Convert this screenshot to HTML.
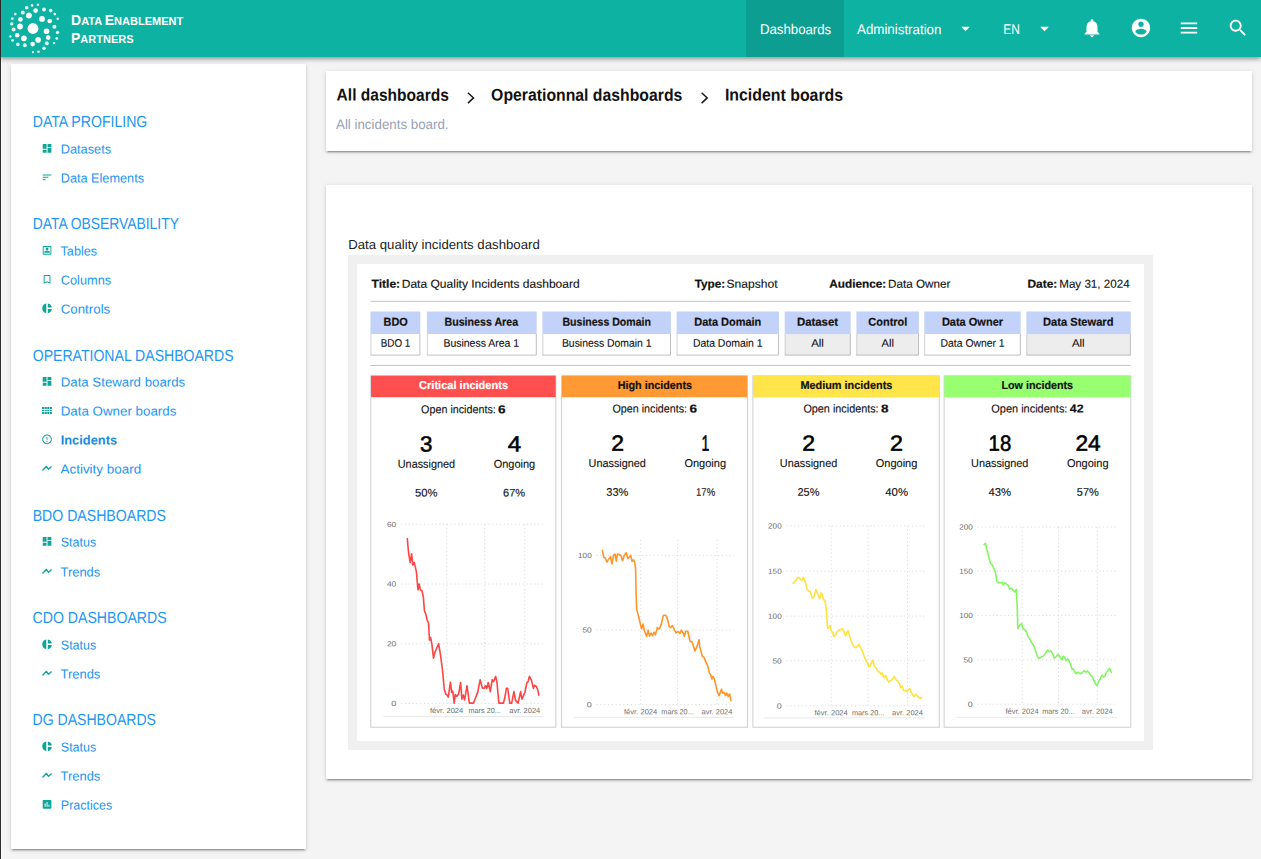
<!DOCTYPE html>
<html><head><meta charset="utf-8"><title>Incident boards</title>
<style>
*{box-sizing:border-box;margin:0;padding:0}
html,body{width:1261px;height:859px;overflow:hidden}
body{background:#f4f4f4;font-family:"Liberation Sans",sans-serif;position:relative;color:#111}
.abs,.paper,.sic,.t{position:absolute}
.t{left:0;top:0;white-space:nowrap;transform-origin:0 0;line-height:2em}
.edge{position:absolute;left:0;top:0;width:1px;height:859px;background:#2b2b2b;z-index:9}
.hdr{position:absolute;left:0;top:0;width:1261px;height:57px;background:#0db2a2;box-shadow:0 2px 4px rgba(0,0,0,.32),0 1px 8px rgba(0,0,0,.12);z-index:5}
.hdr svg{position:absolute;fill:#fff}
.brand{position:absolute;left:71px;color:#fff;font-weight:bold;font-size:11px;white-space:nowrap}
.brand .c{font-size:14px}
.tab{position:absolute;top:0;left:746px;width:98px;height:57px;background:#0c9f91}
.paper{background:#fff;border-radius:0 0 1px 1px;box-shadow:0 3px 1px -2px rgba(0,0,0,.2),0 2px 2px 0 rgba(0,0,0,.14),0 1px 5px 0 rgba(0,0,0,.12)}
.sic{left:41px;overflow:visible;width:11.6px;height:11.6px;fill:#10a697}
svg text{font-family:"Liberation Sans",sans-serif}
.g{stroke:#dcdcdc;stroke-width:1;stroke-dasharray:1.2 2.6}
.b{stroke:#e9e9e9;stroke-width:1}
</style></head><body>
<div class="edge"></div><div class="abs" style="left:1px;top:57px;width:1.3px;height:802px;background:#fdfdfd"></div>
<div class="hdr">
 <svg style="left:0;top:0" width="70" height="57" viewBox="0 0 70 57"><circle cx="33.0" cy="28.5" r="5.4"/><circle cx="28.9" cy="15.5" r="2.9"/><circle cx="42.0" cy="18.9" r="2.9"/><circle cx="20.0" cy="26.5" r="2.9"/><circle cx="46.5" cy="31.2" r="2.8"/><circle cx="23.9" cy="38.3" r="2.9"/><circle cx="38.1" cy="39.9" r="2.8"/><circle cx="35.6" cy="10.6" r="2.3"/><circle cx="44.0" cy="9.6" r="2.0" opacity=".88"/><circle cx="22.8" cy="12.4" r="2.0" opacity=".88"/><circle cx="20.4" cy="19.4" r="2.3"/><circle cx="49.7" cy="21.0" r="2.3"/><circle cx="54.4" cy="26.7" r="2.0" opacity=".88"/><circle cx="13.6" cy="29.5" r="2.0" opacity=".88"/><circle cx="17.2" cy="35.2" r="2.3"/><circle cx="48.2" cy="37.6" r="2.3"/><circle cx="46.8" cy="43.2" r="2.0" opacity=".88"/><circle cx="32.6" cy="44.1" r="2.3"/><circle cx="24.8" cy="45.3" r="2.0" opacity=".88"/><circle cx="17.9" cy="44.4" r="1.8" opacity=".88"/><circle cx="44.0" cy="48.2" r="1.8" opacity=".88"/><circle cx="26.7" cy="7.7" r="1.8" opacity=".88"/><circle cx="32.0" cy="5.4" r="1.4" opacity=".88"/><circle cx="37.9" cy="4.8" r="1.2" opacity=".88"/><circle cx="50.7" cy="10.6" r="1.8" opacity=".88"/><circle cx="54.8" cy="14.1" r="1.4" opacity=".88"/><circle cx="57.7" cy="18.7" r="1.3" opacity=".88"/><circle cx="15.3" cy="14.1" r="1.3" opacity=".88"/><circle cx="12.3" cy="18.7" r="1.4" opacity=".88"/><circle cx="11.7" cy="23.9" r="1.7" opacity=".88"/><circle cx="57.5" cy="32.5" r="1.7" opacity=".88"/><circle cx="56.8" cy="38.4" r="1.4" opacity=".88"/><circle cx="54.0" cy="43.1" r="1.2" opacity=".88"/><circle cx="10.4" cy="36.4" r="1.2" opacity=".88"/><circle cx="12.6" cy="40.4" r="1.4" opacity=".88"/><circle cx="33.0" cy="52.2" r="1.1" opacity=".88"/><circle cx="38.5" cy="51.7" r="1.3" opacity=".88"/></svg>
 <div class="brand" style="top:12px"><span class="c">D</span>ATA <span class="c">E</span>NABLEMENT</div>
 <div class="brand" style="top:29.5px"><span class="c">P</span>ARTNERS</div>
 <div class="tab"></div>
 <div class="t" style="font-size:14.1px;color:#fff;transform:matrix(0.9385,0.0006,0,1,759.90,15.10)">Dashboards</div>
 <div class="t" style="font-size:14.1px;color:#fff;transform:matrix(0.9453,0.0006,0,1,857.00,15.10)">Administration</div>
 <svg style="left:955px;top:17.7px" width="21" height="21" viewBox="0 0 24 24"><path d="M7 10l5 5 5-5z"/></svg>
 <div class="t" style="font-size:14.1px;color:#fff;transform:matrix(0.8501,0.0006,0,1,1003.30,15.10)">EN</div>
 <svg style="left:1034px;top:17.7px" width="21" height="21" viewBox="0 0 24 24"><path d="M7 10l5 5 5-5z"/></svg>
 <svg style="left:1081px;top:17.2px" width="22" height="22" viewBox="0 0 24 24"><path d="M12 22c1.100 0 2-.900 2-2h-4c0 1.100.890 2 2 2zm6-6v-5c0-3.070-1.640-5.640-4.500-6.320V4c0-.830-.670-1.500-1.500-1.500s-1.500.670-1.500 1.500v.680C7.630 5.360 6 7.920 6 11v5l-2 2v1h16v-1l-2-2z"/></svg>
 <svg style="left:1130px;top:17.2px" width="22" height="22" viewBox="0 0 24 24"><path d="M12 2C6.480 2 2 6.480 2 12s4.480 10 10 10 10-4.480 10-10S17.520 2 12 2zm0 3c1.660 0 3 1.340 3 3s-1.340 3-3 3-3-1.340-3-3 1.340-3 3-3zm0 14.200c-2.500 0-4.710-1.280-6-3.220.030-1.990 4-3.080 6-3.080 1.990 0 5.970 1.090 6 3.080-1.290 1.940-3.500 3.220-6 3.220z"/></svg>
 <svg style="left:1178px;top:17.2px" width="22" height="22" viewBox="0 0 24 24"><path d="M3 18h18v-2H3v2zm0-5h18v-2H3v2zm0-7v2h18V6H3z"/></svg>
 <svg style="left:1226.7px;top:17.2px" width="22" height="22" viewBox="0 0 24 24"><path d="M15.500 14h-.790l-.280-.270C15.410 12.590 16 11.110 16 9.500 16 5.910 13.090 3 9.500 3S3 5.910 3 9.500 5.910 16 9.500 16c1.610 0 3.090-.590 4.230-1.570l.270.280v.790l5 4.990L20.490 19l-4.990-5zm-6 0C7.010 14 5 11.990 5 9.500S7.010 5 9.500 5 14 7.010 14 9.500 11.990 14 9.500 14z"/></svg>
</div>

<div class="paper" style="left:11px;top:64px;width:295px;height:785px"></div>
<div class="t" style="font-size:16.1px;color:#2196f3;transform:matrix(0.8758,0.0006,0,1,32.70,104.90)">DATA PROFILING</div>
<svg class="sic" style="top:143px" viewBox="0 0 24 24"><g transform="translate(.52 -.93)"><path d="M3 13h8V3H3v10zm0 8h8v-6H3v6zm10 0h8V11h-8v10zm0-18v6h8V3h-8z"/></g></svg>
<div class="t" style="font-size:13.0px;color:#2196f3;transform:matrix(0.9835,0.0006,0,1,60.70,136.50)">Datasets</div>
<svg class="sic" style="top:172px" viewBox="0 0 24 24"><g transform="translate(.52 -.93)"><path d="M3 18h6v-2H3v2zM3 6v2h18V6H3zm0 7h12v-2H3v2z"/></g></svg>
<div class="t" style="font-size:13.0px;color:#2196f3;transform:matrix(0.9775,0.0006,0,1,60.70,165.50)">Data Elements</div>
<div class="t" style="font-size:16.1px;color:#2196f3;transform:matrix(0.8618,0.0006,0,1,32.70,206.90)">DATA OBSERVABILITY</div>
<svg class="sic" style="top:245px" viewBox="0 0 24 24"><g transform="translate(.52 -.93)"><path d="M19 5v14H5V5h14m0-2H5c-1.100 0-2 .900-2 2v14c0 1.100.900 2 2 2h14c1.100 0 2-.900 2-2V5c0-1.100-.900-2-2-2zm-7 9c-1.650 0-3-1.350-3-3s1.350-3 3-3 3 1.350 3 3-1.350 3-3 3zm-6 5v-1.500c0-1.830 3.660-2.750 6-2.750s6 .920 6 2.750V17H6z" fill-rule="evenodd"/></g></svg>
<div class="t" style="font-size:13.0px;color:#2196f3;transform:matrix(0.9752,0.0006,0,1,60.50,238.50)">Tables</div>
<svg class="sic" style="top:274px" viewBox="0 0 24 24"><g transform="translate(.52 -.93)"><path d="M17 3H7c-1.100 0-1.990.900-1.990 2L5 21l7-3 7 3V5c0-1.100-.900-2-2-2zm0 15l-5-2.180L7 18V5h10v13z"/></g></svg>
<div class="t" style="font-size:13.0px;color:#2196f3;transform:matrix(0.9835,0.0006,0,1,60.70,267.50)">Columns</div>
<svg class="sic" style="top:303px" viewBox="0 0 24 24"><g transform="translate(.52 -.93)"><path d="M10.400 2v20C5.500 21.500 2 17.200 2 12S5.500 2.500 10.400 2zM13.600 2v8.400H22C21.500 5.900 18.100 2.500 13.600 2zM13.600 13.600V22c4.500-.500 7.900-3.900 8.400-8.400h-8.400z"/></g></svg>
<div class="t" style="font-size:13.0px;color:#2196f3;transform:matrix(1.0235,0.0006,0,1,60.70,296.50)">Controls</div>
<div class="t" style="font-size:16.1px;color:#2196f3;transform:matrix(0.8740,0.0006,0,1,32.70,338.90)">OPERATIONAL DASHBOARDS</div>
<svg class="sic" style="top:376px" viewBox="0 0 24 24"><g transform="translate(.52 -.93)"><path d="M3 13h8V3H3v10zm0 8h8v-6H3v6zm10 0h8V11h-8v10zm0-18v6h8V3h-8z"/></g></svg>
<div class="t" style="font-size:13.0px;color:#2196f3;transform:matrix(1.0191,0.0006,0,1,60.70,369.50)">Data Steward boards</div>
<svg class="sic" style="top:405px" viewBox="0 0 24 24"><path d="M2.07 4.14H6.62V8.28H2.07zM7.66 4.14H12.00V8.28H7.66zM13.04 4.14H17.38V8.28H13.04zM18.41 4.14H22.76V8.28H18.41zM2.07 10.35H6.62V12.41H2.07zM7.66 10.35H12.00V12.41H7.66zM13.04 10.35H17.38V12.41H13.04zM18.41 10.35H22.76V12.41H18.41zM2.07 14.48H6.62V18.62H2.07zM7.66 14.48H12.00V18.62H7.66zM13.04 14.48H17.38V18.62H13.04zM18.41 14.48H22.76V18.62H18.41z"/></svg>
<div class="t" style="font-size:13.0px;color:#2196f3;transform:matrix(1.0260,0.0006,0,1,60.70,398.50)">Data Owner boards</div>
<svg class="sic" style="top:434px" viewBox="0 0 24 24"><g transform="translate(.52 -.93)"><path d="M11 15h2v2h-2zm0-8h2v6h-2zm.990-5C6.470 2 2 6.480 2 12s4.470 10 9.990 10C17.520 22 22 17.520 22 12S17.520 2 11.990 2zM12 20c-4.420 0-8-3.580-8-8s3.580-8 8-8 8 3.580 8 8-3.580 8-8 8z"/></g></svg>
<div class="t" style="font-size:13.0px;font-weight:bold;color:#1a8ae0;transform:matrix(0.9874,0.0006,0,1,60.70,427.50)">Incidents</div>
<svg class="sic" style="top:463px" viewBox="0 0 24 24"><g transform="translate(.52 -.93)"><path d="M2.600 16.500L10.700 7.800L15 14L21.400 8.300" fill="none" stroke="#10a697" stroke-width="2.700" stroke-linejoin="round"/></g></svg>
<div class="t" style="font-size:13.0px;color:#2196f3;transform:matrix(1.0336,0.0006,0,1,60.50,456.50)">Activity board</div>
<div class="t" style="font-size:16.1px;color:#2196f3;transform:matrix(0.8762,0.0006,0,1,32.70,498.90)">BDO DASHBOARDS</div>
<svg class="sic" style="top:536px" viewBox="0 0 24 24"><g transform="translate(.52 -.93)"><path d="M3 13h8V3H3v10zm0 8h8v-6H3v6zm10 0h8V11h-8v10zm0-18v6h8V3h-8z"/></g></svg>
<div class="t" style="font-size:13.0px;color:#2196f3;transform:matrix(0.9646,0.0006,0,1,60.70,529.50)">Status</div>
<svg class="sic" style="top:566px" viewBox="0 0 24 24"><g transform="translate(.52 -.93)"><path d="M2.600 16.500L10.700 7.800L15 14L21.400 8.300" fill="none" stroke="#10a697" stroke-width="2.700" stroke-linejoin="round"/></g></svg>
<div class="t" style="font-size:13.0px;color:#2196f3;transform:matrix(0.9944,0.0006,0,1,60.50,559.50)">Trends</div>
<div class="t" style="font-size:16.1px;color:#2196f3;transform:matrix(0.8769,0.0006,0,1,32.50,600.90)">CDO DASHBOARDS</div>
<svg class="sic" style="top:639px" viewBox="0 0 24 24"><g transform="translate(.52 -.93)"><path d="M10.400 2v20C5.500 21.500 2 17.200 2 12S5.500 2.500 10.400 2zM13.600 2v8.400H22C21.500 5.900 18.100 2.500 13.600 2zM13.600 13.600V22c4.500-.500 7.900-3.900 8.400-8.400h-8.400z"/></g></svg>
<div class="t" style="font-size:13.0px;color:#2196f3;transform:matrix(0.9619,0.0006,0,1,60.80,632.50)">Status</div>
<svg class="sic" style="top:668px" viewBox="0 0 24 24"><g transform="translate(.52 -.93)"><path d="M2.600 16.500L10.700 7.800L15 14L21.400 8.300" fill="none" stroke="#10a697" stroke-width="2.700" stroke-linejoin="round"/></g></svg>
<div class="t" style="font-size:13.0px;color:#2196f3;transform:matrix(0.9969,0.0006,0,1,60.50,661.50)">Trends</div>
<div class="t" style="font-size:16.1px;color:#2196f3;transform:matrix(0.8741,0.0006,0,1,32.50,702.90)">DG DASHBOARDS</div>
<svg class="sic" style="top:741px" viewBox="0 0 24 24"><g transform="translate(.52 -.93)"><path d="M10.400 2v20C5.500 21.500 2 17.200 2 12S5.500 2.500 10.400 2zM13.600 2v8.400H22C21.500 5.900 18.100 2.500 13.600 2zM13.600 13.600V22c4.500-.500 7.900-3.900 8.400-8.400h-8.400z"/></g></svg>
<div class="t" style="font-size:13.0px;color:#2196f3;transform:matrix(0.9619,0.0006,0,1,60.80,734.50)">Status</div>
<svg class="sic" style="top:770px" viewBox="0 0 24 24"><g transform="translate(.52 -.93)"><path d="M2.600 16.500L10.700 7.800L15 14L21.400 8.300" fill="none" stroke="#10a697" stroke-width="2.700" stroke-linejoin="round"/></g></svg>
<div class="t" style="font-size:13.0px;color:#2196f3;transform:matrix(0.9969,0.0006,0,1,60.50,763.50)">Trends</div>
<svg class="sic" style="top:799px" viewBox="0 0 24 24"><g transform="translate(.52 -.93)"><path d="M19 3H5c-1.100 0-2 .900-2 2v14c0 1.100.900 2 2 2h14c1.100 0 2-.900 2-2V5c0-1.100-.900-2-2-2zM9 17H7v-7h2v7zm4 0h-2V7h2v10zm4 0h-2v-4h2v4z"/></g></svg>
<div class="t" style="font-size:13.0px;color:#2196f3;transform:matrix(0.9625,0.0006,0,1,60.80,792.50)">Practices</div>

<div class="paper" style="left:326px;top:71px;width:926px;height:80px"></div>
<div class="t" style="font-size:17.0px;font-weight:bold;color:#111;transform:matrix(0.9140,0.0006,0,1,336.60,78.60)">All dashboards</div>
<div class="t" style="font-size:17.0px;font-weight:bold;color:#111;transform:matrix(0.9288,0.0006,0,1,491.10,78.60)">Operationnal dashboards</div>
<div class="t" style="font-size:17.0px;font-weight:bold;color:#111;transform:matrix(0.9343,0.0006,0,1,724.90,78.60)">Incident boards</div>
<div class="t" style="font-size:13.8px;color:#98a2b4;transform:matrix(0.9653,0.0006,0,1,336.00,111.00)">All incidents board.</div>

<div class="paper" style="left:326px;top:185px;width:926px;height:594px"></div>
<div class="t" style="font-size:13.1px;color:#222;transform:matrix(1.0083,0.0006,0,1,348.20,231.90)">Data quality incidents dashboard</div>
<div class="abs" style="left:348px;top:255px;width:805px;height:495px;background:#f0f0f0"></div>
<div class="abs" style="left:357px;top:264px;width:787.3px;height:477.3px;background:#fff"></div>
<svg class="abs" style="left:0;top:0" width="1261" height="859" viewBox="0 0 1261 859">
<polyline points="468.5,93.2 473.5,97.9 468.5,102.6" fill="none" stroke="#1a1a1a" stroke-width="1.5" stroke-linecap="square"/><polyline points="702.2,93.2 707.2,97.9 702.2,102.6" fill="none" stroke="#1a1a1a" stroke-width="1.5" stroke-linecap="square"/>
<text transform="matrix(1.0417,0.0006,0,1,371.50,287.70)" font-size="11.6" fill="#111" font-weight="bold" stroke="#111" stroke-width=".2">Title:</text>
<text transform="matrix(1.0392,0.0006,0,1,401.70,287.70)" font-size="11.6" fill="#111" stroke="#111" stroke-width=".12">Data Quality Incidents dashboard</text>
<text transform="matrix(1.0123,0.0006,0,1,694.80,287.70)" font-size="11.6" fill="#111" font-weight="bold" stroke="#111" stroke-width=".2">Type:</text>
<text transform="matrix(1.0414,0.0006,0,1,726.50,287.70)" font-size="11.6" fill="#111" stroke="#111" stroke-width=".12">Snapshot</text>
<text transform="matrix(1.0174,0.0006,0,1,829.30,287.70)" font-size="11.6" fill="#111" font-weight="bold" stroke="#111" stroke-width=".2">Audience:</text>
<text transform="matrix(1.0091,0.0006,0,1,888.00,287.70)" font-size="11.6" fill="#111" stroke="#111" stroke-width=".12">Data Owner</text>
<text transform="matrix(1.0289,0.0006,0,1,1027.50,287.70)" font-size="11.6" fill="#111" font-weight="bold" stroke="#111" stroke-width=".2">Date:</text>
<text transform="matrix(1.0022,0.0006,0,1,1059.20,287.70)" font-size="11.6" fill="#111" stroke="#111" stroke-width=".12">May 31, 2024</text>
<rect x="370.4" y="300.8" width="760.4" height="1.1" fill="#c9c9c9"/>
<rect x="370.4" y="364.9" width="760.4" height="1.1" fill="#c9c9c9"/>
<rect x="370.5" y="334" width="49.8" height="21.5" fill="#fff"/>
<path d="M370.95 334V355.1" stroke="#cdcdcd" stroke-width=".9" fill="none"/><path d="M370.50 355.1H419.90V334" stroke="#b9b9b9" stroke-width=".9" fill="none"/>
<rect x="370.5" y="311.5" width="49.8" height="22.6" fill="#c3d2f8"/>
<text transform="matrix(0.9451,0.0006,0,1,383.60,325.70)" font-size="11.5" fill="#111" font-weight="bold" stroke="#111" stroke-width=".2">BDO</text>
<text transform="matrix(0.8921,0.0006,0,1,380.80,346.70)" font-size="11.0" fill="#111" stroke="#111" stroke-width=".12">BDO 1</text>
<rect x="426.9" y="334" width="109.8" height="21.5" fill="#fff"/>
<path d="M427.35 334V355.1" stroke="#cdcdcd" stroke-width=".9" fill="none"/><path d="M426.90 355.1H536.30V334" stroke="#b9b9b9" stroke-width=".9" fill="none"/>
<rect x="426.9" y="311.5" width="109.8" height="22.6" fill="#c3d2f8"/>
<text transform="matrix(0.9258,0.0006,0,1,444.50,325.70)" font-size="11.5" fill="#111" font-weight="bold" stroke="#111" stroke-width=".2">Business Area</text>
<text transform="matrix(0.9504,0.0006,0,1,443.50,346.70)" font-size="11.0" fill="#111" stroke="#111" stroke-width=".12">Business Area 1</text>
<rect x="542.4" y="334" width="128.5" height="21.5" fill="#fff"/>
<path d="M542.85 334V355.1" stroke="#cdcdcd" stroke-width=".9" fill="none"/><path d="M542.40 355.1H670.50V334" stroke="#b9b9b9" stroke-width=".9" fill="none"/>
<rect x="542.4" y="311.5" width="128.5" height="22.6" fill="#c3d2f8"/>
<text transform="matrix(0.9176,0.0006,0,1,562.50,325.70)" font-size="11.5" fill="#111" font-weight="bold" stroke="#111" stroke-width=".2">Business Domain</text>
<text transform="matrix(0.9471,0.0006,0,1,561.90,346.70)" font-size="11.0" fill="#111" stroke="#111" stroke-width=".12">Business Domain 1</text>
<rect x="676.6" y="334" width="102.4" height="21.5" fill="#fff"/>
<path d="M677.05 334V355.1" stroke="#cdcdcd" stroke-width=".9" fill="none"/><path d="M676.60 355.1H778.60V334" stroke="#b9b9b9" stroke-width=".9" fill="none"/>
<rect x="676.6" y="311.5" width="102.4" height="22.6" fill="#c3d2f8"/>
<text transform="matrix(0.9554,0.0006,0,1,694.20,325.70)" font-size="11.5" fill="#111" font-weight="bold" stroke="#111" stroke-width=".2">Data Domain</text>
<text transform="matrix(0.9507,0.0006,0,1,692.90,346.70)" font-size="11.0" fill="#111" stroke="#111" stroke-width=".12">Data Domain 1</text>
<rect x="784.7" y="334" width="66.0" height="21.5" fill="#ededed"/>
<path d="M785.15 334V355.1" stroke="#cdcdcd" stroke-width=".9" fill="none"/><path d="M784.70 355.1H850.30V334" stroke="#b9b9b9" stroke-width=".9" fill="none"/>
<rect x="784.7" y="311.5" width="66.0" height="22.6" fill="#c3d2f8"/>
<text transform="matrix(0.9928,0.0006,0,1,796.90,325.70)" font-size="11.5" fill="#111" font-weight="bold" stroke="#111" stroke-width=".2">Dataset</text>
<text transform="matrix(1.0351,0.0006,0,1,811.20,346.70)" font-size="11.0" fill="#111" stroke="#111" stroke-width=".12">All</text>
<rect x="856.4" y="334" width="62.5" height="21.5" fill="#ededed"/>
<path d="M856.85 334V355.1" stroke="#cdcdcd" stroke-width=".9" fill="none"/><path d="M856.40 355.1H918.50V334" stroke="#b9b9b9" stroke-width=".9" fill="none"/>
<rect x="856.4" y="311.5" width="62.5" height="22.6" fill="#c3d2f8"/>
<text transform="matrix(0.9552,0.0006,0,1,868.30,325.70)" font-size="11.5" fill="#111" font-weight="bold" stroke="#111" stroke-width=".2">Control</text>
<text transform="matrix(1.0106,0.0006,0,1,881.60,346.70)" font-size="11.0" fill="#111" stroke="#111" stroke-width=".12">All</text>
<rect x="924.3" y="334" width="96.4" height="21.5" fill="#fff"/>
<path d="M924.75 334V355.1" stroke="#cdcdcd" stroke-width=".9" fill="none"/><path d="M924.30 355.1H1020.30V334" stroke="#b9b9b9" stroke-width=".9" fill="none"/>
<rect x="924.3" y="311.5" width="96.4" height="22.6" fill="#c3d2f8"/>
<text transform="matrix(0.9569,0.0006,0,1,941.90,325.70)" font-size="11.5" fill="#111" font-weight="bold" stroke="#111" stroke-width=".2">Data Owner</text>
<text transform="matrix(0.9439,0.0006,0,1,940.60,346.70)" font-size="11.0" fill="#111" stroke="#111" stroke-width=".12">Data Owner 1</text>
<rect x="1026.4" y="334" width="104.4" height="21.5" fill="#ededed"/>
<path d="M1026.85 334V355.1" stroke="#cdcdcd" stroke-width=".9" fill="none"/><path d="M1026.40 355.1H1130.40V334" stroke="#b9b9b9" stroke-width=".9" fill="none"/>
<rect x="1026.4" y="311.5" width="104.4" height="22.6" fill="#c3d2f8"/>
<text transform="matrix(0.9656,0.0006,0,1,1043.10,325.70)" font-size="11.5" fill="#111" font-weight="bold" stroke="#111" stroke-width=".2">Data Steward</text>
<text transform="matrix(1.0433,0.0006,0,1,1071.90,346.70)" font-size="11.0" fill="#111" stroke="#111" stroke-width=".12">All</text>
<rect x="370.8" y="376" width="185.1" height="351.2" fill="#fff" stroke="#cdcdd0" stroke-width="1"/>
<rect x="370.7" y="375.4" width="185.3" height="22" fill="#d6d4f6"/><rect x="371" y="375.7" width="184.7" height="21.4" fill="#ff4f4f"/>
<text transform="matrix(0.9683,0.0006,0,1,419.10,389.00)" font-size="11.4" fill="#fff" font-weight="bold" stroke="#fff" stroke-width=".2">Critical incidents</text>
<text transform="matrix(0.9354,0.0006,0,1,421.10,413.30)" font-size="11.5" fill="#111" stroke="#111" stroke-width=".12">Open incidents:</text>
<text transform="matrix(1.1808,0.0006,0,1,498.10,413.30)" font-size="11.5" fill="#111" font-weight="bold" stroke="#111" stroke-width=".2">6</text>
<text transform="matrix(1.0178,0.0006,0,1,420.10,451.50)" font-size="22.0" fill="#000" stroke="#000" stroke-width=".55">3</text>
<text transform="matrix(1.0996,0.0006,0,1,507.80,451.50)" font-size="22.0" fill="#000" stroke="#000" stroke-width=".55">4</text>
<text transform="matrix(0.9543,0.0006,0,1,397.75,467.80)" font-size="11.4" fill="#111" stroke="#111" stroke-width=".12">Unassigned</text>
<text transform="matrix(0.9663,0.0006,0,1,493.65,467.80)" font-size="11.4" fill="#111" stroke="#111" stroke-width=".12">Ongoing</text>
<text transform="matrix(1.0199,0.0006,0,1,415.00,496.60)" font-size="11.0" fill="#111" stroke="#111" stroke-width=".12">50%</text>
<text transform="matrix(1.0063,0.0006,0,1,503.00,496.60)" font-size="11.0" fill="#111" stroke="#111" stroke-width=".12">67%</text>
<rect x="561.6" y="376" width="185.9" height="351.2" fill="#fff" stroke="#cdcdd0" stroke-width="1"/>
<rect x="561.5" y="375.4" width="186.1" height="22" fill="#d6d4f6"/><rect x="561.8" y="375.7" width="185.5" height="21.4" fill="#ff9933"/>
<text transform="matrix(0.9467,0.0006,0,1,617.70,389.00)" font-size="11.4" fill="#111" font-weight="bold" stroke="#111" stroke-width=".2">High incidents</text>
<text transform="matrix(0.9354,0.0006,0,1,612.40,412.50)" font-size="11.5" fill="#111" stroke="#111" stroke-width=".12">Open incidents:</text>
<text transform="matrix(1.1808,0.0006,0,1,689.40,412.50)" font-size="11.5" fill="#111" font-weight="bold" stroke="#111" stroke-width=".2">6</text>
<text transform="matrix(1.0423,0.0006,0,1,611.30,450.70)" font-size="22.0" fill="#000" stroke="#000" stroke-width=".55">2</text>
<text transform="matrix(0.6418,0.0006,0,1,701.40,450.70)" font-size="22.0" fill="#000" stroke="#000" stroke-width=".55">1</text>
<text transform="matrix(0.9543,0.0006,0,1,588.55,467.00)" font-size="11.4" fill="#111" stroke="#111" stroke-width=".12">Unassigned</text>
<text transform="matrix(0.9663,0.0006,0,1,684.45,467.00)" font-size="11.4" fill="#111" stroke="#111" stroke-width=".12">Ongoing</text>
<text transform="matrix(1.0018,0.0006,0,1,606.30,495.80)" font-size="11.0" fill="#111" stroke="#111" stroke-width=".12">33%</text>
<text transform="matrix(0.8700,0.0006,0,1,696.00,495.80)" font-size="11.0" fill="#111" stroke="#111" stroke-width=".12">17%</text>
<rect x="752.9" y="376" width="186.4" height="351.2" fill="#fff" stroke="#cdcdd0" stroke-width="1"/>
<rect x="752.8" y="375.4" width="186.6" height="22" fill="#d6d4f6"/><rect x="753.1" y="375.7" width="186.0" height="21.4" fill="#ffe44a"/>
<text transform="matrix(0.9561,0.0006,0,1,800.40,389.00)" font-size="11.4" fill="#111" font-weight="bold" stroke="#111" stroke-width=".2">Medium incidents</text>
<text transform="matrix(0.9429,0.0006,0,1,803.40,412.50)" font-size="11.5" fill="#111" stroke="#111" stroke-width=".12">Open incidents:</text>
<text transform="matrix(1.1808,0.0006,0,1,881.00,412.50)" font-size="11.5" fill="#111" font-weight="bold" stroke="#111" stroke-width=".2">8</text>
<text transform="matrix(1.0505,0.0006,0,1,802.30,450.70)" font-size="22.0" fill="#000" stroke="#000" stroke-width=".55">2</text>
<text transform="matrix(1.0587,0.0006,0,1,890.00,450.70)" font-size="22.0" fill="#000" stroke="#000" stroke-width=".55">2</text>
<text transform="matrix(0.9543,0.0006,0,1,779.85,467.00)" font-size="11.4" fill="#111" stroke="#111" stroke-width=".12">Unassigned</text>
<text transform="matrix(0.9663,0.0006,0,1,875.75,467.00)" font-size="11.4" fill="#111" stroke="#111" stroke-width=".12">Ongoing</text>
<text transform="matrix(1.0018,0.0006,0,1,797.50,495.80)" font-size="11.0" fill="#111" stroke="#111" stroke-width=".12">25%</text>
<text transform="matrix(1.0336,0.0006,0,1,885.30,495.80)" font-size="11.0" fill="#111" stroke="#111" stroke-width=".12">40%</text>
<rect x="944.1" y="376" width="186.7" height="351.2" fill="#fff" stroke="#cdcdd0" stroke-width="1"/>
<rect x="944.0" y="375.4" width="186.9" height="22" fill="#d6d4f6"/><rect x="944.3" y="375.7" width="186.3" height="21.4" fill="#97ff70"/>
<text transform="matrix(0.9440,0.0006,0,1,1001.40,389.00)" font-size="11.4" fill="#111" font-weight="bold" stroke="#111" stroke-width=".2">Low incidents</text>
<text transform="matrix(0.9542,0.0006,0,1,991.30,412.50)" font-size="11.5" fill="#111" stroke="#111" stroke-width=".12">Open incidents:</text>
<text transform="matrix(1.0752,0.0006,0,1,1069.80,412.50)" font-size="11.5" fill="#111" font-weight="bold" stroke="#111" stroke-width=".2">42</text>
<text transform="matrix(0.9259,0.0006,0,1,988.60,450.70)" font-size="22.0" fill="#000" stroke="#000" stroke-width=".55">18</text>
<text transform="matrix(1.0321,0.0006,0,1,1075.40,450.70)" font-size="22.0" fill="#000" stroke="#000" stroke-width=".55">24</text>
<text transform="matrix(0.9543,0.0006,0,1,971.05,467.00)" font-size="11.4" fill="#111" stroke="#111" stroke-width=".12">Unassigned</text>
<text transform="matrix(0.9663,0.0006,0,1,1066.95,467.00)" font-size="11.4" fill="#111" stroke="#111" stroke-width=".12">Ongoing</text>
<text transform="matrix(1.0290,0.0006,0,1,988.40,495.80)" font-size="11.0" fill="#111" stroke="#111" stroke-width=".12">43%</text>
<text transform="matrix(1.0018,0.0006,0,1,1076.80,495.80)" font-size="11.0" fill="#111" stroke="#111" stroke-width=".12">57%</text>
<line x1="401.1" x2="543.0" y1="524.3" y2="524.3" class="g"/>
<text transform="matrix(1.1241,0.0006,0,1,387.00,526.90)" font-size="7.4" fill="#6e6e6e">60</text>
<line x1="401.1" x2="543.0" y1="584.0" y2="584.0" class="g"/>
<text transform="matrix(1.1241,0.0006,0,1,387.00,586.60)" font-size="7.4" fill="#6e6e6e">40</text>
<line x1="401.1" x2="543.0" y1="643.7" y2="643.7" class="g"/>
<text transform="matrix(1.1241,0.0006,0,1,387.00,646.30)" font-size="7.4" fill="#6e6e6e">20</text>
<line x1="401.1" x2="543.0" y1="703.4" y2="703.4" class="g"/>
<text transform="matrix(1.2031,0.0006,0,1,391.30,706.00)" font-size="7.4" fill="#6e6e6e">0</text>
<line x1="446.7" x2="446.7" y1="524.3" y2="703.4" class="g"/>
<line x1="484.7" x2="484.7" y1="524.3" y2="703.4" class="g"/>
<line x1="524.8" x2="524.8" y1="524.3" y2="703.4" class="g"/>
<line x1="383.2" x2="543.8" y1="716.5" y2="716.5" class="b"/>
<text transform="matrix(1.0261,0.0006,0,1,430.00,712.90)" font-size="7.4" fill="#6e6e6e">févr. 2024</text>
<text transform="matrix(0.9863,0.0006,0,1,468.45,712.90)" font-size="7.4" fill="#6e6e6e">mars 20...</text>
<text transform="matrix(1.0199,0.0006,0,1,509.25,712.90)" font-size="7.4" fill="#6e6e6e">avr. 2024</text>
<polyline points="407.3,538.5 408.6,553.2 410.2,562.6 411.6,553.7 412.9,565.2 414.3,562.6 416.4,571.9 418.0,589.9 419.1,584.0 420.4,589.9 422.0,590.7 423.4,597.4 424.4,610.8 426.0,614.8 427.1,620.1 428.5,622.8 429.5,640.2 430.6,637.5 431.9,644.2 433.5,658.1 435.1,651.7 438.6,643.7 440.5,654.9 442.6,671.0 444.3,689.7 445.9,694.3 447.2,695.1 448.3,697.2 450.4,682.2 451.7,692.4 452.8,691.1 454.2,703.1 455.2,694.6 456.8,696.4 458.7,693.8 460.6,682.5 461.9,699.1 463.3,695.1 464.6,699.9 467.0,685.7 469.4,703.1 473.4,703.1 475.6,697.8 477.7,692.4 480.1,679.8 482.3,687.9 484.1,688.4 485.5,685.7 486.8,688.4 488.2,682.5 490.3,691.6 492.2,679.6 493.5,681.7 495.7,676.4 497.0,683.0 498.9,703.1 503.4,703.1 504.8,697.8 506.4,688.4 507.7,688.4 509.8,703.1 511.7,703.1 513.9,691.6 515.5,700.4 518.1,703.1 520.6,691.6 521.9,699.1 524.8,692.4 527.0,682.5 528.1,681.7 529.4,676.4 531.5,680.4 533.4,688.4 534.5,685.2 536.4,686.5 537.7,689.7 538.8,695.1" fill="none" stroke="#ff4444" stroke-width="1.6" stroke-linejoin="round" stroke-linecap="round"/>
<line x1="596.5" x2="733.8" y1="555.3" y2="555.3" class="g"/>
<text transform="matrix(1.0978,0.0006,0,1,578.10,557.90)" font-size="7.4" fill="#6e6e6e">100</text>
<line x1="596.5" x2="733.8" y1="630.0" y2="630.0" class="g"/>
<text transform="matrix(1.1241,0.0006,0,1,582.40,632.60)" font-size="7.4" fill="#6e6e6e">50</text>
<line x1="596.5" x2="733.8" y1="704.7" y2="704.7" class="g"/>
<text transform="matrix(1.2031,0.0006,0,1,586.70,707.30)" font-size="7.4" fill="#6e6e6e">0</text>
<line x1="640.7" x2="640.7" y1="539.8" y2="704.7" class="g"/>
<line x1="677.6" x2="677.6" y1="539.8" y2="704.7" class="g"/>
<line x1="717.0" x2="717.0" y1="539.8" y2="704.7" class="g"/>
<line x1="573.7" x2="733.8" y1="717.3" y2="717.3" class="b"/>
<text transform="matrix(1.0261,0.0006,0,1,624.00,714.20)" font-size="7.4" fill="#6e6e6e">févr. 2024</text>
<text transform="matrix(0.9863,0.0006,0,1,661.35,714.20)" font-size="7.4" fill="#6e6e6e">mars 20...</text>
<text transform="matrix(1.0199,0.0006,0,1,701.45,714.20)" font-size="7.4" fill="#6e6e6e">avr. 2024</text>
<polyline points="602.4,550.5 603.7,557.2 605.3,558.0 606.9,562.0 608.5,559.4 610.4,556.7 612.0,563.9 613.6,555.3 615.0,554.0 616.3,561.2 617.4,554.0 619.3,554.5 621.1,555.9 622.5,560.7 624.1,555.9 626.2,552.7 627.8,558.5 629.4,557.2 630.5,555.3 632.1,561.2 633.4,559.9 634.8,562.6 635.6,569.3 636.1,593.4 636.7,609.4 638.5,616.1 640.1,622.8 641.5,628.7 643.1,624.1 644.4,630.8 646.6,636.2 648.2,630.3 649.5,636.2 651.1,633.0 652.5,635.7 654.1,632.2 655.4,634.9 657.3,627.6 659.4,629.0 661.3,624.1 663.4,615.3 665.8,615.3 667.4,618.8 669.1,626.3 670.7,627.6 672.3,625.5 674.1,629.0 676.0,633.0 678.2,631.4 680.0,633.5 681.4,630.3 683.2,633.0 684.3,636.2 685.7,631.4 687.8,631.4 688.9,636.2 690.2,641.5 692.1,642.1 693.7,646.9 695.0,650.9 696.9,646.9 699.0,639.7 699.8,646.9 702.3,656.3 703.9,657.1 705.7,661.6 707.6,665.6 709.5,673.1 710.8,675.0 711.9,679.0 713.0,676.4 714.3,679.0 715.6,684.4 717.5,692.4 719.1,695.6 721.5,689.2 722.6,693.2 724.2,692.4 725.5,695.6 726.9,693.2 728.2,696.4 729.6,693.8 730.9,700.4" fill="none" stroke="#ff9428" stroke-width="1.6" stroke-linejoin="round" stroke-linecap="round"/>
<line x1="786.5" x2="924.9" y1="525.9" y2="525.9" class="g"/>
<text transform="matrix(1.0978,0.0006,0,1,768.10,528.50)" font-size="7.4" fill="#6e6e6e">200</text>
<line x1="786.5" x2="924.9" y1="571.1" y2="571.1" class="g"/>
<text transform="matrix(1.0978,0.0006,0,1,768.10,573.70)" font-size="7.4" fill="#6e6e6e">150</text>
<line x1="786.5" x2="924.9" y1="616.1" y2="616.1" class="g"/>
<text transform="matrix(1.0978,0.0006,0,1,768.10,618.70)" font-size="7.4" fill="#6e6e6e">100</text>
<line x1="786.5" x2="924.9" y1="660.8" y2="660.8" class="g"/>
<text transform="matrix(1.1241,0.0006,0,1,772.40,663.40)" font-size="7.4" fill="#6e6e6e">50</text>
<line x1="786.5" x2="924.9" y1="705.8" y2="705.8" class="g"/>
<text transform="matrix(1.2031,0.0006,0,1,776.70,708.40)" font-size="7.4" fill="#6e6e6e">0</text>
<line x1="831.2" x2="831.2" y1="525.9" y2="705.8" class="g"/>
<line x1="868.2" x2="868.2" y1="525.9" y2="705.8" class="g"/>
<line x1="907.5" x2="907.5" y1="525.9" y2="705.8" class="g"/>
<line x1="763.7" x2="924.9" y1="717.9" y2="717.9" class="b"/>
<text transform="matrix(1.0261,0.0006,0,1,814.50,715.30)" font-size="7.4" fill="#6e6e6e">févr. 2024</text>
<text transform="matrix(0.9863,0.0006,0,1,851.95,715.30)" font-size="7.4" fill="#6e6e6e">mars 20...</text>
<text transform="matrix(1.0199,0.0006,0,1,891.95,715.30)" font-size="7.4" fill="#6e6e6e">avr. 2024</text>
<polyline points="793.2,583.4 795.3,581.3 798.0,577.3 799.9,578.6 801.8,580.5 803.4,577.3 805.2,581.3 807.1,589.3 808.7,591.2 810.1,591.2 812.2,597.9 813.8,597.4 816.0,589.3 817.8,594.2 819.7,598.7 821.0,592.8 822.4,594.2 823.4,600.0 824.8,600.0 826.1,608.1 826.9,617.4 827.5,628.2 829.1,626.8 830.1,625.5 831.2,630.8 832.6,632.2 833.9,636.7 835.5,634.9 837.4,631.4 839.2,630.3 840.9,629.5 842.7,628.7 844.1,632.2 845.4,635.7 847.0,632.2 848.1,630.8 849.4,635.7 851.0,640.2 852.6,644.2 854.2,646.9 855.6,647.7 857.4,646.4 859.1,644.2 860.7,648.2 862.3,650.9 864.1,656.3 866.0,660.8 867.6,663.0 869.0,667.0 870.3,665.6 871.9,661.6 873.0,660.3 874.3,666.2 876.2,668.3 878.1,671.5 879.7,672.3 881.0,674.2 882.3,673.1 883.7,677.7 885.6,675.5 886.9,679.0 888.8,682.2 890.9,680.4 892.8,679.0 894.4,676.4 896.0,679.8 897.6,680.9 899.5,683.8 900.8,687.6 902.2,686.5 903.5,690.3 905.1,690.5 907.0,691.6 908.3,689.7 909.7,688.7 911.0,691.6 912.3,694.3 913.9,696.4 915.5,694.3 917.2,695.6 919.0,697.8 920.4,698.3 921.7,697.2" fill="none" stroke="#ffe240" stroke-width="1.6" stroke-linejoin="round" stroke-linecap="round"/>
<line x1="977.6" x2="1116.8" y1="527.0" y2="527.0" class="g"/>
<text transform="matrix(1.0978,0.0006,0,1,959.20,529.60)" font-size="7.4" fill="#6e6e6e">200</text>
<line x1="977.6" x2="1116.8" y1="571.1" y2="571.1" class="g"/>
<text transform="matrix(1.0978,0.0006,0,1,959.20,573.70)" font-size="7.4" fill="#6e6e6e">150</text>
<line x1="977.6" x2="1116.8" y1="615.3" y2="615.3" class="g"/>
<text transform="matrix(1.0978,0.0006,0,1,959.20,617.90)" font-size="7.4" fill="#6e6e6e">100</text>
<line x1="977.6" x2="1116.8" y1="659.8" y2="659.8" class="g"/>
<text transform="matrix(1.1241,0.0006,0,1,963.50,662.40)" font-size="7.4" fill="#6e6e6e">50</text>
<line x1="977.6" x2="1116.8" y1="704.2" y2="704.2" class="g"/>
<text transform="matrix(1.2031,0.0006,0,1,967.80,706.80)" font-size="7.4" fill="#6e6e6e">0</text>
<line x1="1022.1" x2="1022.1" y1="527.0" y2="704.2" class="g"/>
<line x1="1058.5" x2="1058.5" y1="527.0" y2="704.2" class="g"/>
<line x1="1097.3" x2="1097.3" y1="527.0" y2="704.2" class="g"/>
<line x1="956.7" x2="1116.8" y1="717.3" y2="717.3" class="b"/>
<text transform="matrix(1.0261,0.0006,0,1,1005.40,713.70)" font-size="7.4" fill="#6e6e6e">févr. 2024</text>
<text transform="matrix(0.9863,0.0006,0,1,1042.25,713.70)" font-size="7.4" fill="#6e6e6e">mars 20...</text>
<text transform="matrix(1.0199,0.0006,0,1,1081.75,713.70)" font-size="7.4" fill="#6e6e6e">avr. 2024</text>
<polyline points="984.1,544.6 985.4,543.3 987.0,550.0 988.9,557.2 990.5,563.4 992.4,565.2 994.2,569.3 995.6,573.3 996.9,581.3 998.5,582.6 1000.7,582.6 1002.3,582.6 1003.3,584.8 1004.9,582.6 1006.5,584.0 1008.1,585.3 1009.8,589.3 1011.1,588.0 1013.0,590.1 1014.8,592.0 1016.4,589.3 1017.3,609.4 1017.8,628.7 1019.4,625.5 1021.5,623.6 1023.1,628.7 1024.7,629.5 1026.4,631.6 1028.0,636.7 1029.6,638.3 1031.2,642.1 1032.8,644.2 1034.4,646.9 1036.0,652.3 1037.6,657.1 1039.2,658.4 1041.1,657.1 1043.0,656.3 1044.6,654.4 1046.4,651.7 1047.8,650.1 1049.4,651.7 1051.0,650.9 1052.6,653.6 1054.2,658.1 1055.8,657.1 1057.7,654.4 1059.0,655.5 1060.6,658.1 1062.0,659.8 1063.3,656.3 1064.6,657.1 1066.0,660.8 1067.6,658.9 1069.2,660.8 1070.8,665.6 1071.9,669.1 1073.2,668.9 1074.5,671.5 1076.4,673.7 1077.8,672.3 1079.4,673.1 1081.2,673.7 1082.6,672.3 1084.2,670.5 1085.8,672.3 1087.4,671.0 1089.3,673.1 1090.6,675.0 1092.2,676.4 1093.8,680.4 1095.4,683.8 1097.0,685.7 1098.6,681.7 1100.2,679.0 1101.9,675.0 1103.5,676.9 1104.8,676.4 1106.4,672.3 1108.0,670.5 1109.6,668.3 1111.2,672.3" fill="none" stroke="#84f562" stroke-width="1.6" stroke-linejoin="round" stroke-linecap="round"/>
</svg>
</body></html>
